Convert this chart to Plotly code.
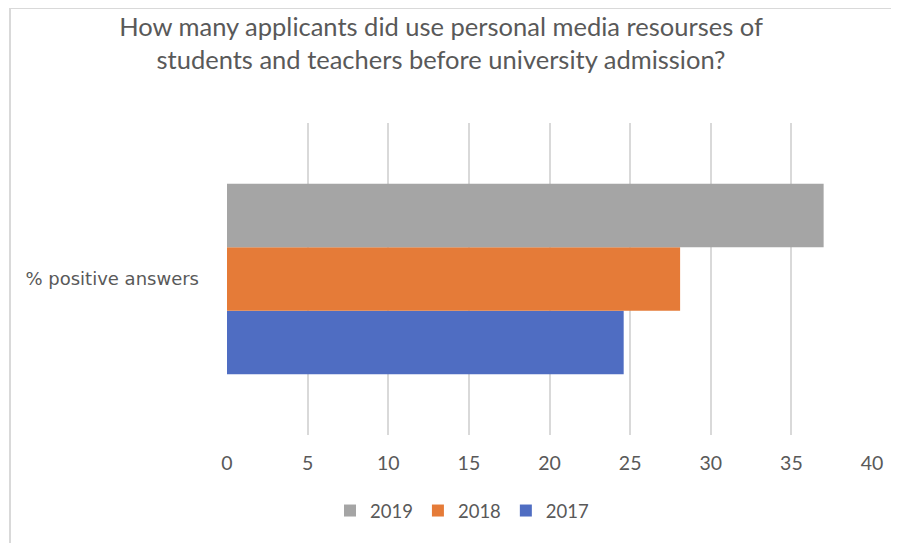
import plotly.graph_objects as go

categories = ["% positive answers"]
years = ["2017", "2018", "2019"]
values = {"2017": [24.6], "2018": [28.1], "2019": [37.0]}
colors = {"2017": "#4f6dc2", "2018": "#e57b38", "2019": "#a5a5a5"}
x_ticks = [0, 5, 10, 15, 20, 25, 30, 35, 40]

# page body adds an 8px offset; figure is sized to fit the window
OFF = 8
W, H = 899 - OFF, 543 - OFF
L, T = 227 - OFF, 123 - OFF
R = W - (872 - OFF)
B = H - (435 - OFF)

fig = go.Figure()
for y in years:
    fig.add_trace(go.Bar(
        y=categories, x=values[y], name=y, orientation="h",
        marker=dict(color=colors[y], line=dict(width=0)),
    ))

pw = W - L - R
ph = H - T - B
def px_x(px):
    return (px - OFF - L) / pw
def px_y(py):
    return (H - B - (py - OFF)) / ph

border = dict(color="#d9d9d9", width=2)
# left border
fig.add_shape(type="line", xref="paper", yref="paper",
              x0=px_x(10), x1=px_x(10), y0=px_y(7), y1=px_y(560), line=border, layer="below")
# top border
fig.add_shape(type="line", xref="paper", yref="paper",
              x0=px_x(10), x1=px_x(920), y0=px_y(8), y1=px_y(8), line=border, layer="below")

FONT = "Lato, sans-serif"
fig.update_layout(
    width=W, height=H,
    margin=dict(l=L, r=R, t=T, b=B),
    paper_bgcolor="white", plot_bgcolor="white",
    barmode="group", bargap=0.39, bargroupgap=0,
    title=dict(
        text="How many applicants did use personal media resourses of<br>students and teachers before university admission?",
        x=(441 - OFF) / W, xanchor="center", xref="container",
        y=1 - (36 - OFF) / H, yanchor="middle", yref="container",
        font=dict(family=FONT, size=25.5, color="#595959"),
    ),
    xaxis=dict(
        range=[0, 40], tickvals=x_ticks, showgrid=True, gridcolor="#d9d9d9", gridwidth=2,
        zeroline=False, showline=False, ticks="", ticklabelstandoff=14,
        tickfont=dict(family=FONT, size=19.5, color="#595959"),
        fixedrange=True,
    ),
    yaxis=dict(
        showgrid=False, zeroline=False, showline=False, ticks="", ticklabelstandoff=27,
        tickfont=dict(family="DejaVu Sans, sans-serif", size=18, color="#595959"),
        fixedrange=True,
    ),
    legend=dict(
        orientation="h", traceorder="reversed",
        x=(462 - OFF) / W, xanchor="center", xref="container",
        y=1 - (511 - OFF) / H, yanchor="middle", yref="container",
        font=dict(family=FONT, size=18.5, color="#595959"),
        itemwidth=30,
    ),
    showlegend=True,
)

fig.write_html("out.html")
